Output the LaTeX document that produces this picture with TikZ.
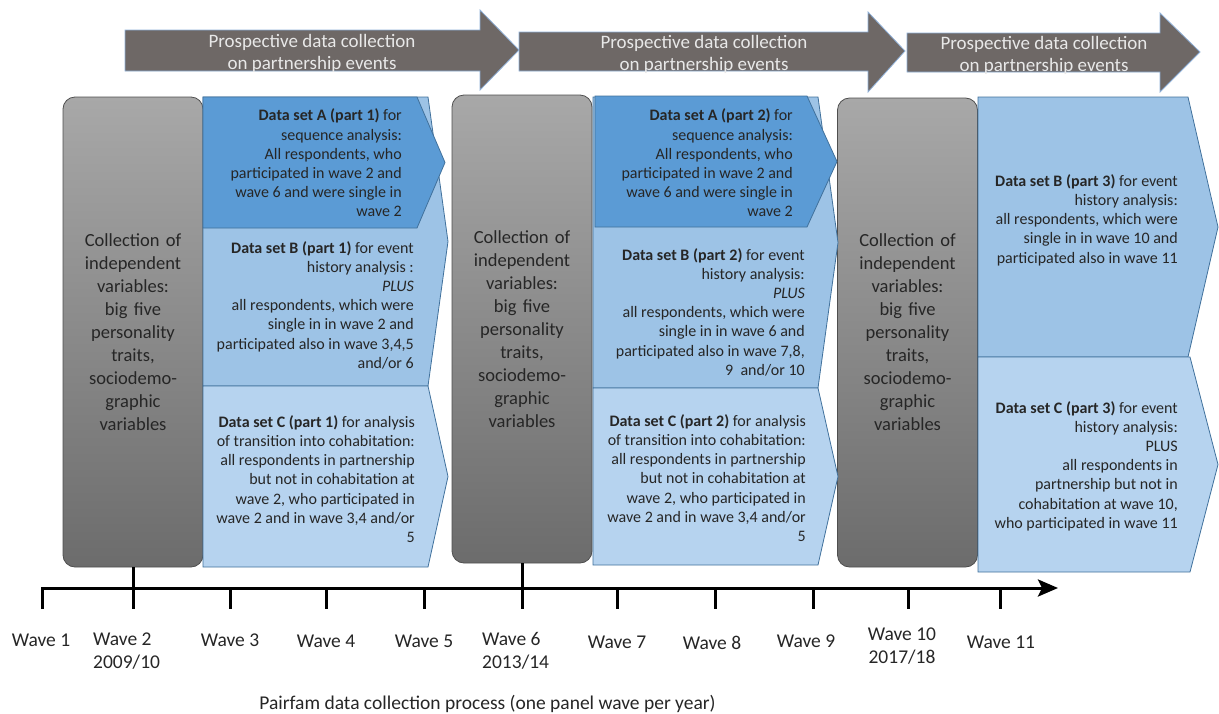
\documentclass[tikz,border=0pt]{standalone}
\usepackage{fontspec}
\setmainfont{Carlito}
\usetikzlibrary{arrows.meta}
\definecolor{arrowgrey}{HTML}{6E6866}
\definecolor{arrowedge}{HTML}{8FB0D8}
\definecolor{arrowtxt}{HTML}{E8E8E8}
\definecolor{greytop}{HTML}{A8A8A8}
\definecolor{greybot}{HTML}{6C6C6C}
\definecolor{greyedge}{HTML}{4F4F4F}
\definecolor{blueA}{HTML}{5B9BD5}
\definecolor{blueB}{HTML}{9DC3E6}
\definecolor{blueC}{HTML}{B6D3EF}
\definecolor{blueedge}{HTML}{41719C}
\definecolor{txt}{HTML}{262626}
\newcommand\chevronpath[6]{\path[#6] (#1,#4) -- (#2,#4) -- (#3,{(#4+#5)/2}) -- (#2,#5) -- (#1,#5) -- cycle;}
\newcommand\bigarrowshape[8]{\path[bigarrow] (#1,#3) -- (#2,#3) -- (#2,#5) -- (#6,#7) -- (#2,#8) -- (#2,#4) -- (#1,#4) -- cycle;}
\begin{document}
\begin{tikzpicture}[x=1pt,y=-1pt,
  bigarrow/.style={fill=arrowgrey, draw=arrowedge, line width=0.8pt, line join=miter},
  arrowtext/.style={text=arrowtxt, font=\fontsize{19}{22}\selectfont, align=center, inner sep=0},
  greybox/.style={draw=greyedge, line width=0.8pt, rounded corners=12pt, top color=greytop, bottom color=greybot,
    minimum width=140pt, text width=130pt, align=center, text=txt, font=\fontsize{18.5}{23}\selectfont, inner sep=0},
  chevA/.style={fill=blueA, draw=blueedge, line width=0.8pt},
  chevB/.style={fill=blueB, draw=blueedge, line width=0.8pt},
  chevC/.style={fill=blueC, draw=blueedge, line width=0.8pt},
  dstext/.style={font=\fontsize{16}{19.2}\selectfont, align=right, text=txt, inner sep=0, anchor=east},
  wavelbl/.style={font=\fontsize{19.5}{23}\selectfont, inner sep=0, text=txt},
  tline/.style={line width=3pt, black}
]
\useasboundingbox (0,0) rectangle (1219,713);

% ---- top arrows
\bigarrowshape{125}{480}{30}{71}{10}{519}{50}{90}
\bigarrowshape{519}{868}{32}{71}{12}{905}{51}{92}
\bigarrowshape{907}{1160}{33}{72}{13}{1200}{52}{92}
\node[arrowtext] (t1) at (312,53) {Prospective data collection\\on partnership events};
\node[arrowtext] (t2) at (704,54) {Prospective data collection\\on partnership events};
\node[arrowtext] (t3) at (1044,55) {Prospective data collection\\on partnership events};

% ---- grey boxes
\node[greybox, minimum height=470pt] (g1) at (133,332) {Collection of\\independent\\variables:\\big five\\personality\\traits,\\sociodemo-\\graphic\\variables};
\node[greybox, minimum height=468pt] (g2) at (522,329) {Collection of\\independent\\variables:\\big five\\personality\\traits,\\sociodemo-\\graphic\\variables};
\node[greybox, minimum height=469pt] (g3) at (907.5,332.5) {Collection of\\independent\\variables:\\big five\\personality\\traits,\\sociodemo-\\graphic\\variables};

% ---- column 1
\chevronpath{203}{428}{448}{97}{386}{chevB}
\chevronpath{203}{428}{448}{386}{567}{chevC}
\chevronpath{203}{417}{445}{97}{228}{chevA}
\node[dstext] (a1) at (402,163) {\textbf{Data set A (part 1)} for\\sequence analysis:\\All respondents, who\\participated in wave 2 and\\wave 6 and were single in\\wave 2};
\node[dstext] (b1) at (414,305) {\textbf{Data set B (part 1)} for event\\history analysis :\\\textit{PLUS}\\all respondents, which were\\single in in wave 2 and\\participated also in wave 3,4,5\\and/or 6};
\node[dstext] (c1) at (415,479) {\textbf{Data set C (part 1)} for analysis\\of transition into cohabitation:\\all respondents in partnership\\but not in cohabitation at\\wave 2, who participated in\\wave 2 and in wave 3,4 and/or\\5};

% ---- column 2
\chevronpath{593}{818}{838}{97}{388}{chevB}
\chevronpath{593}{818}{838}{388}{565}{chevC}
\chevronpath{595}{807}{837}{96}{227}{chevA}
\node[dstext] (a2) at (793,163) {\textbf{Data set A (part 2)} for\\sequence analysis:\\All respondents, who\\participated in wave 2 and\\wave 6 and were single in\\wave 2};
\node[dstext] (b2) at (805,312) {\textbf{Data set B (part 2)} for event\\history analysis:\\\textit{PLUS}\\all respondents, which were\\single in in wave 6 and\\participated also in wave 7,8,\\9\ \ and/or 10};
\node[dstext] (c2) at (806,478) {\textbf{Data set C (part 2)} for analysis\\of transition into cohabitation:\\all respondents in partnership\\but not in cohabitation at\\wave 2, who participated in\\wave 2 and in wave 3,4 and/or\\5};

% ---- column 3
\chevronpath{978}{1188}{1218}{97}{357}{chevB}
\chevronpath{978}{1190}{1218}{357}{572}{chevC}
\node[dstext] (b3) at (1178,220) {\textbf{Data set B (part 3)} for event\\history analysis:\\all respondents, which were\\single in in wave 10 and\\participated also in wave 11};
\node[dstext] (c3) at (1178,466) {\textbf{Data set C (part 3)} for event\\history analysis:\\PLUS\\all respondents in\\partnership but not in\\cohabitation at wave 10,\\who participated in wave 11};

% ---- timeline
\coordinate (w1b) at (42,609);
\coordinate (tlend) at (1058,588);
\draw[tline, line join=miter, -{Stealth[length=20pt,width=17pt,inset=4pt]}] (w1b) |- (tlend);
\draw[tline] (g1.south) -- (g1.south |- w1b);
\draw[tline] (g2.south) -- (g2.south |- w1b);
\foreach \x in {230,326,424,617,715,813,908,1000}{
  \draw[tline] (\x,588) -- (\x,609);
}
\node[wavelbl] (l1) at (41,640) {Wave 1};
\node[wavelbl, align=left, anchor=west] (l2) at (93,651) {Wave 2\\2009/10};
\node[wavelbl] (l3) at (230,640) {Wave 3};
\node[wavelbl] (l4) at (326,641) {Wave 4};
\node[wavelbl] (l5) at (424,641) {Wave 5};
\node[wavelbl, align=left, anchor=west] (l6) at (482,651) {Wave 6\\2013/14};
\node[wavelbl] (l7) at (617,642) {Wave 7};
\node[wavelbl] (l8) at (712,643) {Wave 8};
\node[wavelbl] (l9) at (806,641) {Wave 9};
\node[wavelbl, align=center] (l10) at (902,646) {Wave 10\\2017/18};
\node[wavelbl] (l11) at (1001,642) {Wave 11};
\node[wavelbl] (cap) at (487.5,704) {Pairfam data collection process (one panel wave per year)};
\end{tikzpicture}
\end{document}
